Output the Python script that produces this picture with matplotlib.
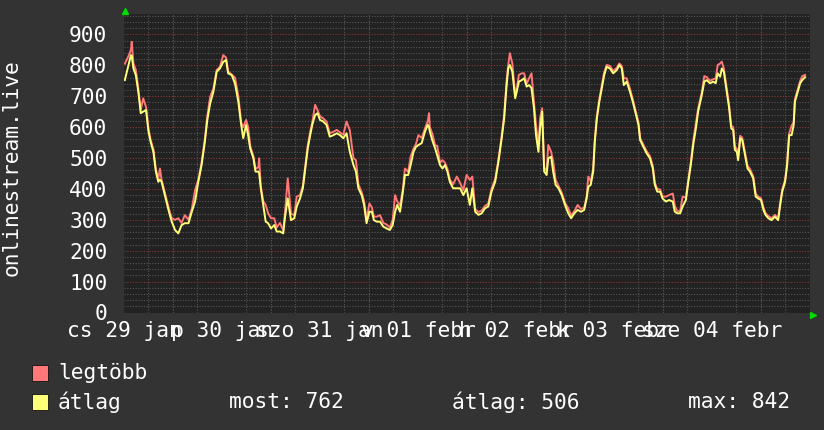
import matplotlib.pyplot as plt
import matplotlib.patches as mpatches
import numpy as np

# hours since "cs 29 jan" 00:00
hours = [0.2, 1.1, 1.7, 1.9, 2.3, 2.9, 3.5, 4.1, 4.7, 5.4, 6.0, 6.5, 7.2, 7.8, 8.4, 8.8, 9.2, 9.8,
         10.5, 11.1, 11.7, 12.5, 13.3, 14.1, 14.9, 15.8, 16.6, 17.4, 18.2, 19.0, 19.8, 20.4, 21.1,
         21.9, 22.7, 23.5, 24.3, 25.0, 25.5, 26.4, 27.2, 28.0, 28.7, 29.2, 29.9, 30.4, 30.9, 31.7,
         32.2, 32.9, 33.1, 33.5, 34.1, 34.7, 35.3, 36.0, 36.8, 37.4, 38.2, 39.0, 39.4, 40.1, 40.9,
         41.7, 42.3, 43.1, 43.8, 44.3, 45.0, 45.6, 46.1, 46.8, 47.4, 48.0, 48.8, 49.6, 50.4, 51.3,
         52.1, 52.9, 53.7, 54.5, 55.3, 56.2, 56.8, 57.4, 58.2, 58.8, 59.4, 60.1, 60.7, 61.2, 61.9,
         62.7, 63.5, 64.3, 65.1, 65.8, 66.4, 66.9, 67.6, 68.3, 68.8, 69.6, 70.2, 70.9, 71.5, 72.1,
         72.9, 73.7, 74.4, 74.7, 74.9, 75.6, 76.2, 76.7, 77.4, 78.0, 78.6, 79.2, 79.8, 80.6, 81.5,
         82.3, 83.1, 83.9, 84.7, 85.3, 86.0, 86.8, 87.6, 88.4, 89.2, 90.0, 90.9, 91.7, 92.5, 93.1,
         93.7, 94.1, 94.5, 95.1, 95.8, 96.2, 96.7, 97.4, 98.0, 98.6, 99.2, 99.8, 100.4, 100.9,
         101.5, 101.9, 102.4, 102.9, 103.5, 103.9, 104.6, 105.1, 105.7, 106.4, 107.2, 108.0,
         108.8, 109.5, 110.3, 111.1, 111.9, 112.7, 113.3, 113.7, 114.3, 114.9, 115.3, 115.8,
         116.4, 117.0, 117.6, 118.2, 119.0, 119.8, 120.7, 121.3, 121.9, 122.4, 123.1, 123.9,
         124.6, 125.2, 126.0, 126.4, 127.2, 128.0, 128.8, 129.5, 130.0, 130.6, 131.3, 131.9,
         132.7, 133.5, 134.4, 134.9, 135.5, 136.2, 136.8, 137.6, 138.2, 138.8, 139.4, 140.1,
         140.6, 141.5, 142.1, 142.7, 143.5, 144.3, 144.9, 145.4, 146.0, 146.4, 146.9, 147.6,
         148.2, 148.7, 149.2, 149.6, 150.1, 150.4, 150.9, 151.4, 152.1, 152.7, 153.3, 154.1,
         154.7, 155.3, 156.0, 156.6, 157.1, 157.8, 158.6, 159.4, 160.2, 160.7, 161.2, 161.9,
         162.4, 162.9, 163.5, 164.0, 164.3, 165.0, 165.6, 166.1, 166.8]

atlag = [752, 801, 833, 830, 790, 768, 715, 645, 650, 655, 585, 553, 520, 456, 423, 430, 423, 391,
         353, 321, 294, 267, 256, 283, 289, 289, 326, 359, 423, 477, 553, 623, 677,
         715, 779, 790, 811, 817, 774, 768, 740, 682, 607, 564, 607, 574, 531, 499,
         456, 456, 450, 402, 348, 294, 289, 272, 283, 262, 262, 256, 305, 369, 299,
         305, 343, 369, 402, 456, 531, 574, 607, 639, 645, 623, 618, 607, 569, 574,
         580, 574, 564, 580, 520, 477, 456, 402, 380, 348, 289, 326, 326, 299, 294,
         294, 278, 272, 267, 283, 326, 348, 326, 391, 445, 445, 477, 520, 536, 542,
         548, 585, 607, 600, 585, 553, 531, 509, 477, 466, 477, 456, 423, 402, 402,
         402, 380, 402, 348, 402, 326, 316, 321, 337, 343, 391, 423, 488, 564, 628,
         736, 790, 801, 779, 693, 715, 747, 752, 758, 731, 736, 726, 661, 574,
         520, 596, 650, 456, 445, 499, 504, 456, 413, 402, 380, 348,
         321, 305, 321, 332, 326, 332, 369, 407, 413, 456, 553, 628,
         682, 726, 768, 795, 790, 774, 785, 801, 790, 736, 747, 715,
         682, 650, 607, 558, 536, 515, 499, 466, 413, 391, 391, 369,
         359, 364, 359, 326, 321, 321, 343, 364, 423, 477, 542, 600,
         650, 704, 747, 752, 742, 747, 742, 774, 763, 790, 779, 715,
         661, 596, 590, 526, 520, 493, 564, 558, 509, 466, 456, 434,
         375, 369, 364, 332, 316, 305, 299, 310, 299, 348, 391, 423,
         477, 574, 574, 607, 682, 715, 742, 752, 762]

legtobb = [805, 830, 850, 876, 806, 785, 725, 655, 693, 665, 595, 560, 528, 465, 432, 466, 430, 398,
           360, 330, 305, 300, 305, 290, 315, 300, 335, 396, 430, 485, 560, 635, 698,
           725, 785, 795, 833, 825, 780, 770, 760, 700, 615, 600, 623, 600, 540, 505,
           465, 470, 499, 410, 360, 348, 321, 305, 305, 275, 290, 265, 320, 434, 320,
           315, 375, 380, 410, 465, 540, 585, 615, 672, 655, 635, 628, 618, 580, 585,
           591, 583, 575, 618, 590, 499, 493, 415, 390, 360, 300, 353, 340, 310, 310,
           315, 290, 285, 275, 300, 380, 360, 345, 400, 466, 455, 505, 530, 545, 574,
           565, 595, 620, 645, 600, 575, 540, 540, 485, 493, 485, 465, 430, 415, 440,
           420, 395, 445, 429, 440, 335, 325, 330, 345, 352, 400, 432, 495, 572, 640,
           750, 801, 839, 806, 705, 725, 769, 774, 774, 740, 758, 774, 680, 607,
           540, 628, 661, 470, 455, 542, 520, 490, 429, 410, 388, 355,
           337, 315, 328, 348, 335, 340, 375, 440, 425, 465, 560, 635,
           690, 735, 778, 801, 798, 782, 792, 806, 798, 758, 758, 725,
           690, 658, 615, 565, 543, 522, 506, 475, 420, 400, 398, 375,
           375, 380, 385, 345, 328, 328, 375, 372, 430, 485, 555, 615,
           660, 712, 765, 762, 750, 755, 758, 801, 806, 812, 790, 725,
           670, 605, 600, 535, 530, 500, 572, 566, 518, 475, 465, 440,
           385, 375, 370, 340, 322, 312, 305, 316, 305, 355, 398, 430,
           485, 580, 605, 615, 690, 722, 750, 765, 769]

day_hours = [0, 24, 48, 72, 96, 120, 144]
day_labels = ['cs 29 jan', 'p 30 jan', 'szo 31 jan', 'v 01 febr', 'h 02 febr', 'k 03 febr', 'sze 04 febr']
y_ticks = [0, 100, 200, 300, 400, 500, 600, 700, 800, 900]

plt.rcParams['font.family'] = 'DejaVu Sans Mono'
FS = 15.3
W, H = 824, 430
fig = plt.figure(figsize=(W / 100, H / 100), dpi=100, facecolor='#333333')
ax = fig.add_axes([124 / W, 1 - 312.5 / H, 686 / W, 298.5 / H], facecolor='#222222')

dots = (0, (1, 1.5))
ax.set_xlim(0, 168)
ax.set_ylim(0, 966)
ax.set_xticks(day_hours, day_labels)
ax.set_xticks(np.arange(0, 169, 6), minor=True)
ax.set_yticks(y_ticks)
ax.set_yticks(np.arange(0, 966, 20), minor=True)
ax.grid(axis='x', which='minor', color='#555555', linestyle=dots, linewidth=0.8)
ax.grid(axis='y', which='minor', color='#555555', linestyle=dots, linewidth=0.8)
ax.grid(axis='y', which='major', color='#8a3535', linestyle=dots, linewidth=0.8)
for h in np.arange(12, 168, 24):
    ax.axvline(h, color='#8a3535', linestyle=dots, linewidth=0.8, zorder=0.5)
ax.set_axisbelow(True)

ax.tick_params(which='both', length=0, colors='white', labelsize=FS)
ax.tick_params(axis='y', pad=12)
ax.tick_params(axis='x', pad=6)
for s in ax.spines.values():
    s.set_visible(False)

ax.plot(hours, legtobb, color='#ff7777', linewidth=1.4)
ax.plot(hours, atlag, color='#ffff77', linewidth=1.4)

# small green arrows at axis ends
ax.plot([0.002], [1.0 + 3.3 / 298.5], marker='^', color='#00dd00', markersize=4,
        transform=ax.transAxes, clip_on=False)
ax.plot([1.0 + 3 / 686], [-2 / 298.5], marker='>', color='#00dd00', markersize=4,
        transform=ax.transAxes, clip_on=False)

fig.text(12 / W, 1 - 168 / H, 'onlinestream.live', rotation=90, color='white',
         fontsize=FS, ha='center', va='center')

# legend
for yy, col, lab in [(373, '#ff7777', 'legtöbb'), (402, '#ffff77', 'átlag')]:
    fig.patches.append(mpatches.Rectangle((32 / W, 1 - (yy + 8) / H), 16 / W, 16 / H,
                                          facecolor=col, edgecolor='#111111', linewidth=0.6,
                                          transform=fig.transFigure))
    fig.text(58 / W, 1 - yy / H, lab, color='white', fontsize=FS, va='center')
fig.text(229 / W, 1 - 402 / H, 'most: 762', color='white', fontsize=FS, va='center')
fig.text(452 / W, 1 - 402 / H, 'átlag: 506', color='white', fontsize=FS, va='center')
fig.text(688 / W, 1 - 402 / H, 'max: 842', color='white', fontsize=FS, va='center')

fig.savefig('out.png', dpi=100, facecolor=fig.get_facecolor())
